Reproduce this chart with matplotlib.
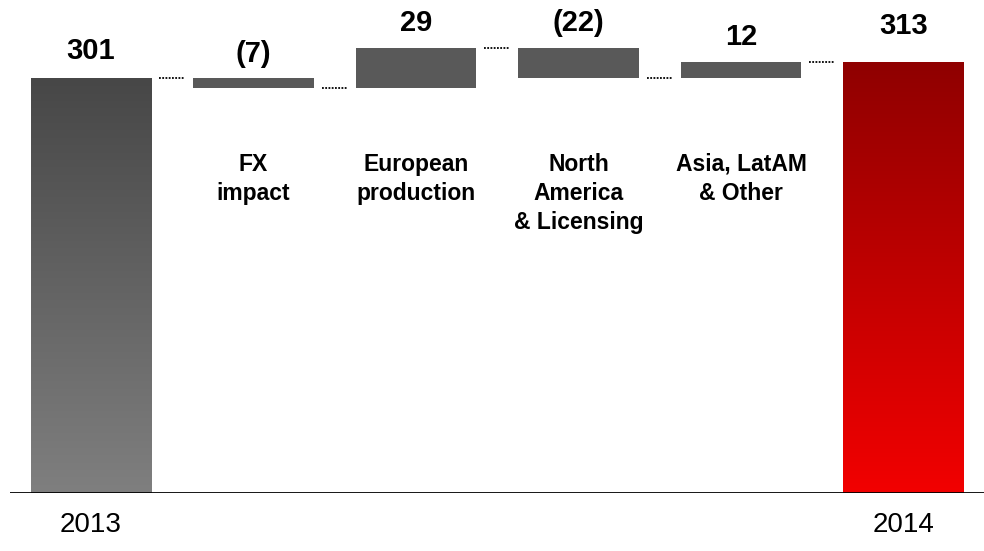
import matplotlib
matplotlib.use("Agg")
import matplotlib.pyplot as plt
import numpy as np
from matplotlib.colors import LinearSegmentedColormap
from matplotlib import font_manager
import matplotlib.transforms as mtransforms

# ---- data ----
start_label = "2013"
end_label = "2014"
start_value = 301
end_value = 313
step_names = ["FX\nimpact", "European\nproduction", "North\nAmerica\n& Licensing", "Asia, LatAM\n& Other"]
step_values = [-7, 29, -22, 12]

plt.rcParams['font.family'] = ['Liberation Sans', 'DejaVu Sans']

def narrow_family():
    for fam in ["Liberation Sans Narrow", "Arial Narrow"]:
        try:
            font_manager.findfont(font_manager.FontProperties(family=fam), fallback_to_default=False)
            return fam
        except Exception:
            pass
    return None

narrow = narrow_family()

fig = plt.figure(figsize=(9.84, 5.51), dpi=100)
W, H = 984, 551
ax = fig.add_axes([10 / W, 58 / H, 974 / W, 493 / H])

n = len(step_values) + 2
xs = np.arange(n)
width = 0.74

# cumulative levels
levels = [start_value]
for v in step_values:
    levels.append(levels[-1] + v)

# start / end bars with gradients
ends_bars = ax.bar([xs[0], xs[-1]], [start_value, end_value], width=width, color='none', edgecolor='none')

grey_cmap = LinearSegmentedColormap.from_list("g", ["#7f7f7f", "#474747"])
red_cmap = LinearSegmentedColormap.from_list("r", ["#f20000", "#8f0000"])
grad = np.linspace(0, 1, 256).reshape(-1, 1)
for patch, cmap in zip(ends_bars.patches, [grey_cmap, red_cmap]):
    x0 = patch.get_x()
    w = patch.get_width()
    h = patch.get_height()
    im = ax.imshow(grad, cmap=cmap, origin='lower', aspect='auto',
                   extent=[x0, x0 + w, 0, h], zorder=2)
    im.set_clip_path(patch)

# floating bars
bottoms = [min(levels[i], levels[i + 1]) for i in range(len(step_values))]
heights = [abs(v) for v in step_values]
ax.bar(xs[1:-1], heights, bottom=bottoms, width=width, color='#595959', zorder=2)

# connectors
gap = 0.05
for i in range(n - 1):
    y = levels[i] if i < len(levels) else end_value
    ax.plot([xs[i] + width / 2 + gap, xs[i + 1] - width / 2 - gap], [y, y],
            color='black', linestyle=(0, (1, 0.8)), linewidth=1.3, zorder=3)

# value labels
def fmt(v):
    return f"({abs(v)})" if v < 0 else f"{v}"

ax.annotate(fmt(start_value), (xs[0], start_value), xytext=(0, 14), textcoords='offset points',
            ha='center', va='baseline', fontsize=21, fontweight='bold')
for i, v in enumerate(step_values):
    top = max(levels[i], levels[i + 1])
    ax.annotate(fmt(v), (xs[i + 1], top), xytext=(0, 12), textcoords='offset points',
                ha='center', va='baseline', fontsize=21, fontweight='bold')
ax.annotate(fmt(end_value), (xs[-1], end_value), xytext=(0, 20), textcoords='offset points',
            ha='center', va='baseline', fontsize=21, fontweight='bold')

# category labels
trans = mtransforms.blended_transform_factory(ax.transData, ax.transAxes)
for i, name in enumerate(step_names):
    ax.text(xs[i + 1], 1 - 153 / 493, name, transform=trans, ha='center', va='top',
            fontsize=16.5, fontweight='bold', linespacing=1.33)

# year labels
year_kw = dict(fontsize=20)
if narrow:
    year_kw = dict(fontsize=22, family=[narrow, 'Liberation Sans'])
for x, lab in [(xs[0], start_label), (xs[-1], end_label)]:
    ax.annotate(lab, (x, 0), xytext=(0, -23), textcoords='offset points',
                ha='center', va='center', **year_kw)

ax.axhline(0, color='black', linewidth=2.0, zorder=4)

ax.set_xlim((10 - 91) / 162.5, (984 - 91) / 162.5)
ax.set_ylim(0, 357.8)
for s in ax.spines.values():
    s.set_visible(False)
ax.set_xticks([])
ax.set_yticks([])
ax.patch.set_alpha(0)

fig.savefig("out.png", dpi=100)
